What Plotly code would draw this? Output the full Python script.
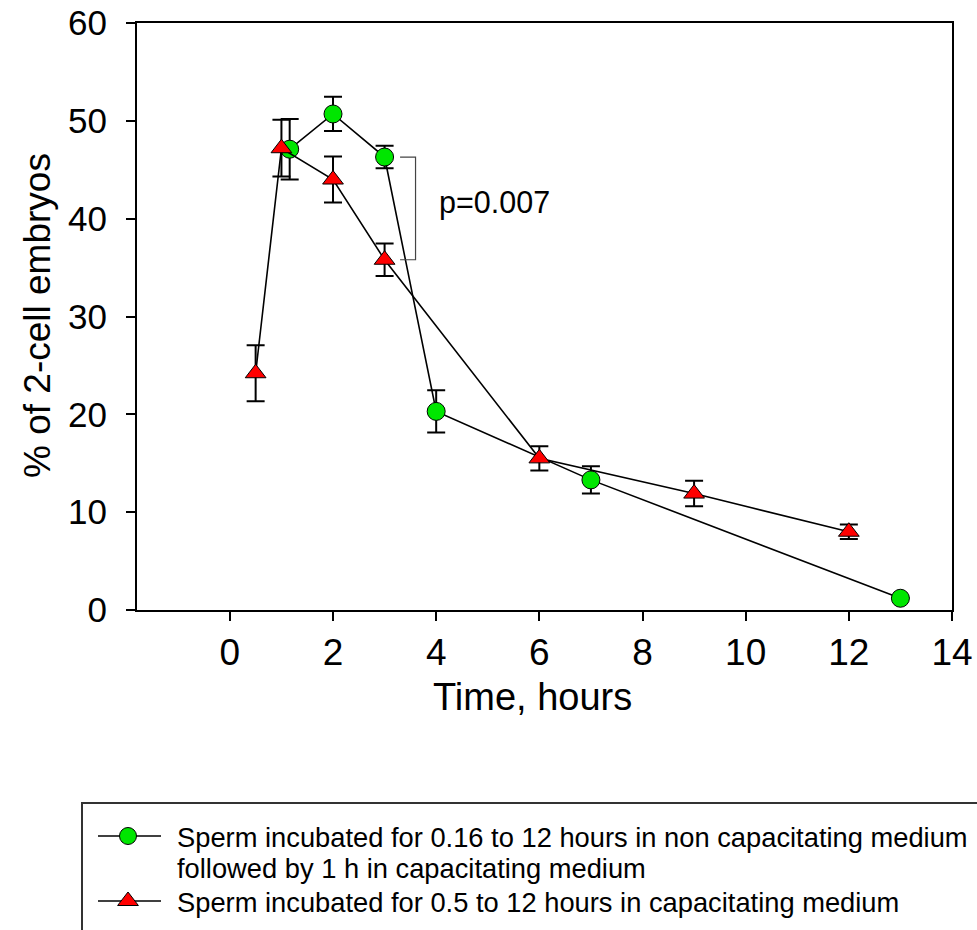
import plotly.graph_objects as go

# ---------------- data ----------------
green_name_1 = "Sperm incubated for 0.16 to 12 hours in non capacitating medium"
green_name_2 = "followed by 1 h in capacitating medium"
red_name = "Sperm incubated for 0.5 to 12 hours in capacitating medium"

green_x = [1.16, 2, 3, 4, 7, 13]
green_y = [47.1, 50.7, 46.3, 20.3, 13.3, 1.2]
green_err = [3.1, 1.75, 1.15, 2.15, 1.4, 0.0]

red_x = [0.5, 1, 2, 3, 6, 9, 12]
red_y = [24.2, 47.2, 44.0, 35.8, 15.5, 11.9, 8.0]
red_err = [2.85, 2.9, 2.35, 1.65, 1.25, 1.3, 0.75]

x_ticks = [0, 2, 4, 6, 8, 10, 12, 14]
y_ticks = [0, 10, 20, 30, 40, 50, 60]

x_title = "Time, hours"
y_title = "% of 2-cell embryos"
p_text = "p=0.007"

# ---------------- layout geometry (window pixels) ----------------
W, H = 977, 930
L, R, T, B = 137, 952, 23, 610
FONT = "Liberation Sans, Arial, sans-serif"
GREEN = "#00e600"
RED = "#ff0000"

def px(x):
    return x / W

def py(y):
    return 1 - y / H

fig = go.Figure()

# data traces
fig.add_trace(go.Scatter(
    x=green_x, y=green_y, mode="lines+markers",
    line=dict(color="black", width=1.6),
    marker=dict(symbol="circle", size=18, color=GREEN, line=dict(color="black", width=1)),
    error_y=dict(type="data", array=green_err, visible=True, color="black", thickness=2, width=9),
    xaxis="x", yaxis="y", cliponaxis=False, showlegend=False,
))
fig.add_trace(go.Scatter(
    x=red_x, y=red_y, mode="lines+markers",
    line=dict(color="black", width=1.6),
    marker=dict(symbol="triangle-up", size=18, color=RED, line=dict(color="black", width=1)),
    error_y=dict(type="data", array=red_err, visible=True, color="black", thickness=2, width=9),
    xaxis="x", yaxis="y", cliponaxis=False, showlegend=False,
))

# legend glyphs on a full-figure pixel overlay axis
leg_y1, leg_y3 = 836, 901
fig.add_trace(go.Scatter(x=[128], y=[leg_y1], mode="markers",
    marker=dict(symbol="circle", size=17, color=GREEN, line=dict(color="black", width=1)),
    xaxis="x2", yaxis="y2", cliponaxis=False, showlegend=False, hoverinfo="skip"))
fig.add_trace(go.Scatter(x=[128], y=[leg_y3], mode="markers",
    marker=dict(symbol="triangle-up", size=18, color=RED, line=dict(color="black", width=1)),
    xaxis="x2", yaxis="y2", cliponaxis=False, showlegend=False, hoverinfo="skip"))

shapes = []
# legend box: only its left and top edges fall inside the picture
shapes.append(dict(type="path", xref="paper", yref="paper",
                   path=f"M {px(82)},{py(940)} L {px(82)},{py(803)} L {px(990)},{py(803)}",
                   line=dict(color="#333333", width=2), layer="below"))
for yy in (leg_y1, leg_y3):
    shapes.append(dict(type="line", xref="paper", yref="paper",
                       x0=px(98), x1=px(161), y0=py(yy), y1=py(yy),
                       line=dict(color="black", width=1.6), layer="below"))
# significance bracket between the 3 h points
yg = green_y[green_x.index(3)]
yr = red_y[red_x.index(3)]
shapes.append(dict(type="path", xref="x", yref="y",
                   path=f"M 3.3,{yg} L 3.6,{yg} L 3.6,{yr} L 3.3,{yr}",
                   line=dict(color="#444444", width=1.2)))

annotations = [
    dict(text=p_text, x=4.02, y=41.7, xref="x", yref="y", xanchor="left", yanchor="middle",
         showarrow=False, font=dict(size=30.5, family=FONT, color="black")),
    dict(text=x_title, x=px(532), y=py(697), xref="paper", yref="paper",
         xanchor="center", yanchor="middle", showarrow=False,
         font=dict(size=38, family=FONT, color="black")),
    dict(text=y_title, x=px(37), y=py(316), xref="paper", yref="paper", textangle=-90,
         xanchor="center", yanchor="middle", showarrow=False,
         font=dict(size=37, family=FONT, color="black")),
    dict(text=green_name_1, x=px(175), y=py(837), xref="paper", yref="paper",
         xanchor="left", yanchor="middle", showarrow=False,
         font=dict(size=27.3, family=FONT, color="black")),
    dict(text=green_name_2, x=px(175), y=py(868), xref="paper", yref="paper",
         xanchor="left", yanchor="middle", showarrow=False,
         font=dict(size=27.3, family=FONT, color="black")),
    dict(text=red_name, x=px(175), y=py(902), xref="paper", yref="paper",
         xanchor="left", yanchor="middle", showarrow=False,
         font=dict(size=27.3, family=FONT, color="black")),
]

fig.update_layout(
    template="none",
    width=W, height=H,
    margin=dict(l=0, r=0, t=0, b=0, pad=0, autoexpand=False),
    paper_bgcolor="white", plot_bgcolor="rgba(0,0,0,0)",
    showlegend=False,
    font=dict(family=FONT, color="black"),
    xaxis=dict(domain=[px(L), px(R)], range=[-1.8, 14], tickmode="array", tickvals=x_ticks,
               ticks="outside", ticklen=9, tickwidth=2, tickcolor="black",
               showline=True, linecolor="black", linewidth=2, mirror=True,
               showgrid=False, zeroline=False, anchor="y", automargin=False,
               ticklabeloverflow="allow",
               tickfont=dict(size=37, family=FONT, color="black"), ticklabelstandoff=0),
    yaxis=dict(domain=[py(B), py(T)], range=[0, 60], tickmode="array", tickvals=y_ticks,
               ticks="outside", ticklen=9, tickwidth=2, tickcolor="black",
               showline=True, linecolor="black", linewidth=2, mirror=True,
               showgrid=False, zeroline=False, anchor="x", automargin=False,
               ticklabeloverflow="allow",
               tickfont=dict(size=35, family=FONT, color="black"), ticklabelstandoff=12),
    xaxis2=dict(domain=[0, 1], range=[0, W], visible=False, anchor="y2", fixedrange=True,
                automargin=False),
    yaxis2=dict(domain=[0, 1], range=[H, 0], visible=False, anchor="x2", fixedrange=True,
                automargin=False),
    shapes=shapes,
    annotations=annotations,
)

fig.write_html(
    "out.html",
    config={"displayModeBar": False},
    post_script="document.body.style.margin='0';document.body.style.overflow='hidden';",
)
